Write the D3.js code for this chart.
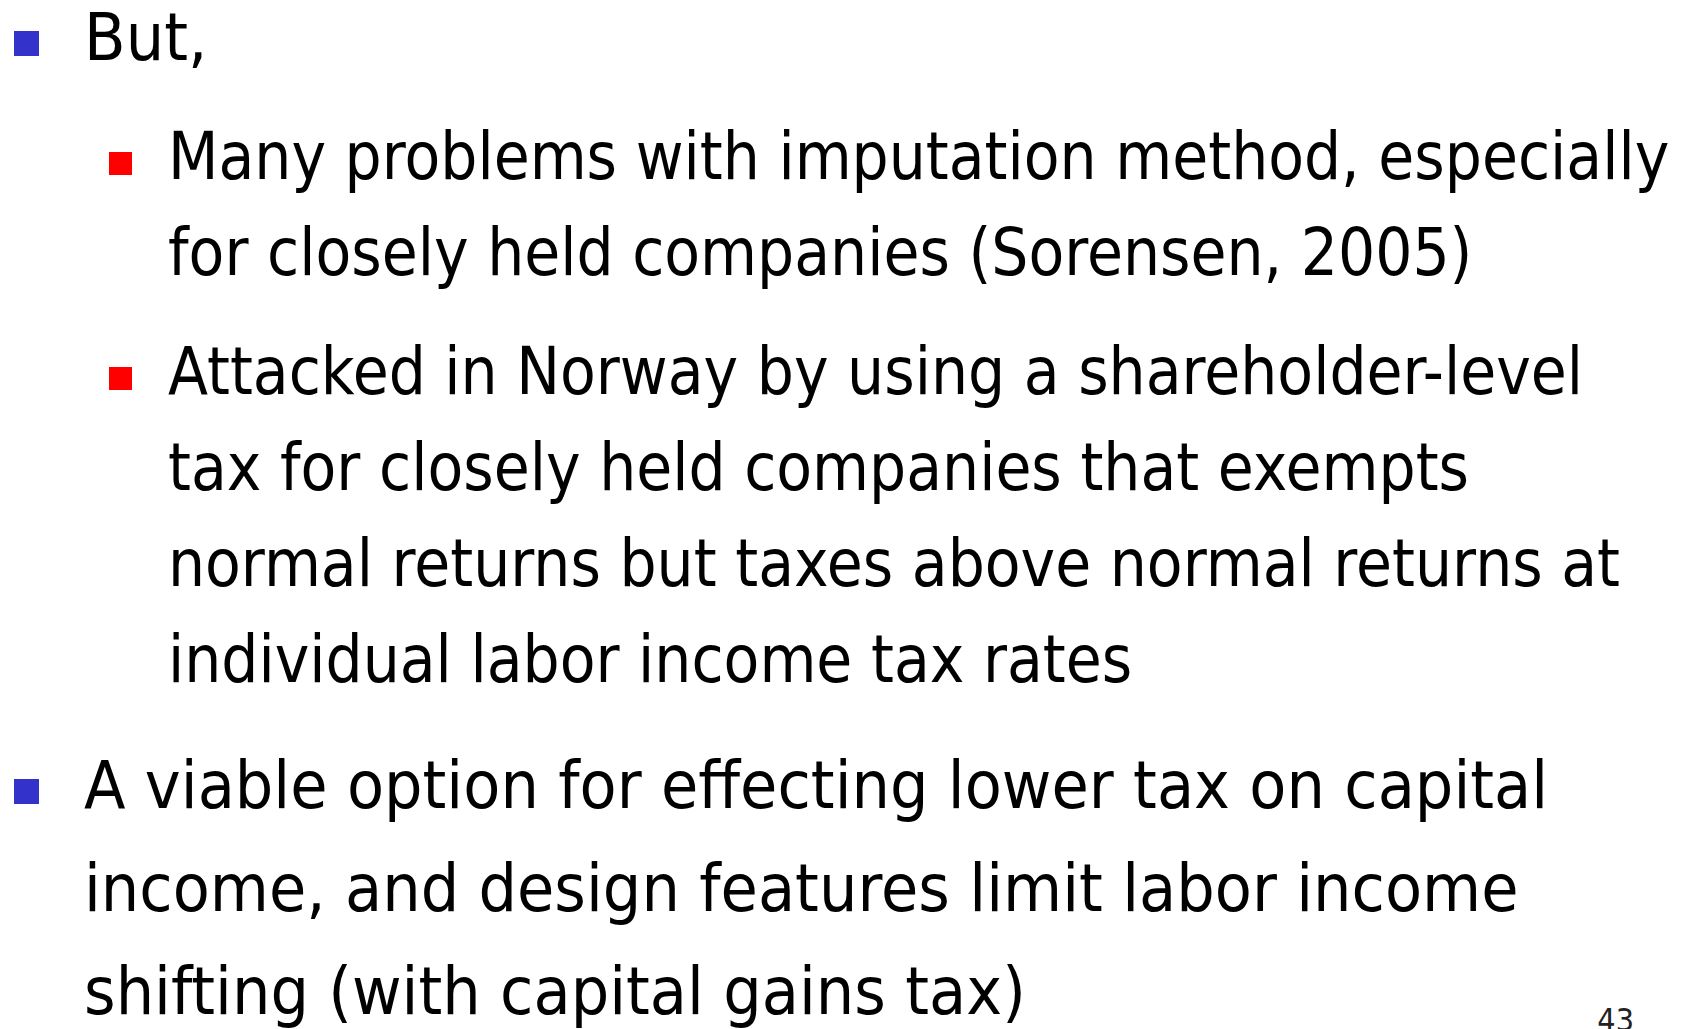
<!DOCTYPE html>
<html>
<head>
<meta charset="utf-8">
<script src="https://cdn.jsdelivr.net/npm/d3@7"></script>
<style>
    html, body { margin: 0; padding: 0; background: #fff; }
    svg { display: block; }
    .line { font-family: Tahoma, "DejaVu Sans", sans-serif; fill: #000; }
</style>
</head>
<body>
<svg id="slide"></svg>
<script>
'use strict';

// Bullet levels (1 = main, 2 = sub) and the wrapped lines of each bullet
const levels = [1, 2, 2, 1];
const paragraphs = [
    ['But,'],
    ['Many problems with imputation method, especially',
     'for closely held companies (Sorensen, 2005)'],
    ['Attacked in Norway by using a shareholder-level',
     'tax for closely held companies that exempts',
     'normal returns but taxes above normal returns at',
     'individual labor income tax rates'],
    ['A viable option for effecting lower tax on capital',
     'income, and design features limit labor income',
     'shifting (with capital gains tax)']
];
const pageNumber = '43';

const WIDTH = 1683;
const HEIGHT = 1029;

// DejaVu is wider than Tahoma, so squeeze it horizontally a bit
const style = {
    1: { size: 66, squeeze: 0.92, lineHeight: 103, textX: 84, markX: 14, markSize: 25, color: '#3333cc' },
    2: { size: 65, squeeze: 0.9, lineHeight: 96, textX: 168, markX: 109, markSize: 23, color: '#ff0000' }
};
const firstBaseline = 60;
const spaceBefore = 23;

const svg = d3.select('#slide')
    .attr('width', WIDTH)
    .attr('height', HEIGHT);

function layout() {
    const rows = [];
    let y = firstBaseline;
    paragraphs.forEach((lines, i) => {
        const s = style[levels[i]];
        if (i > 0) y += s.lineHeight + spaceBefore;
        lines.forEach((text, j) => {
            if (j > 0) y += s.lineHeight;
            rows.push({ level: levels[i], text: text, y: y, first: j === 0 });
        });
    });
    return rows;
}

const rows = layout();

svg.selectAll('rect.mark')
    .data(rows.filter(d => d.first))
    .join('rect')
    .attr('class', 'mark')
    .attr('x', d => style[d.level].markX)
    .attr('y', d => d.y - style[d.level].markSize - 4)
    .attr('width', d => style[d.level].markSize)
    .attr('height', d => style[d.level].markSize)
    .attr('fill', d => style[d.level].color);

svg.selectAll('text.line')
    .data(rows)
    .join('text')
    .attr('class', 'line')
    .attr('transform', d => {
        const s = style[d.level];
        return `translate(${s.textX},${d.y}) scale(${s.squeeze},1)`;
    })
    .attr('font-size', d => style[d.level].size)
    .text(d => d.text);

// slide number, partly below the bottom edge as in the original
svg.append('text')
    .attr('transform', 'translate(1634,1031) scale(0.9,1)')
    .attr('text-anchor', 'end')
    .attr('font-family', 'Tahoma, "DejaVu Sans", sans-serif')
    .attr('font-size', 32)
    .attr('fill', '#222')
    .text(pageNumber);
</script>
</body>
</html>
